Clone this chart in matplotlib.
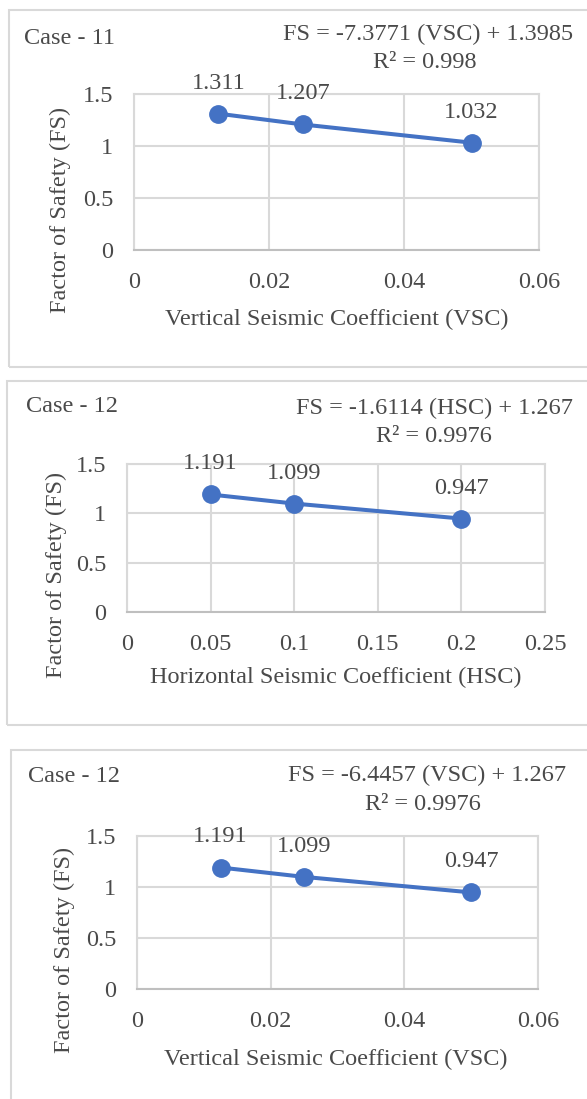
import matplotlib
matplotlib.use('Agg')
import matplotlib.pyplot as plt
from matplotlib.patches import Rectangle

plt.rcParams['font.family'] = ['Liberation Serif', 'DejaVu Serif']

W, H = 587, 1099

# data
vsc_11 = [0.0125, 0.025, 0.05]
fs_11 = [1.311, 1.207, 1.032]
hsc_12 = [0.05, 0.1, 0.2]
fs_12h = [1.191, 1.099, 0.947]
vsc_12 = [0.0125, 0.025, 0.05]
fs_12v = [1.191, 1.099, 0.947]

case_labels = ['Case - 11', 'Case - 12', 'Case - 12']
equations = ['FS = -7.3771 (VSC) + 1.3985',
             'FS = -1.6114 (HSC) + 1.267',
             'FS = -6.4457 (VSC) + 1.267']
r2_labels = ['R\u00b2 = 0.998', 'R\u00b2 = 0.9976', 'R\u00b2 = 0.9976']
x_labels = ['Vertical Seismic Coefficient (VSC)',
            'Horizontal Seismic Coefficient (HSC)',
            'Vertical Seismic Coefficient (VSC)']
x_ticks = [[0, 0.02, 0.04, 0.06],
           [0, 0.05, 0.1, 0.15, 0.2, 0.25],
           [0, 0.02, 0.04, 0.06]]
x_ticklabels = [['0', '0.02', '0.04', '0.06'],
                ['0', '0.05', '0.1', '0.15', '0.2', '0.25'],
                ['0', '0.02', '0.04', '0.06']]
y_ticks = [0, 0.5, 1, 1.5]
y_ticklabels = ['0', '0.5', '1', '1.5']

xs = [vsc_11, hsc_12, vsc_12]
ys = [fs_11, fs_12h, fs_12v]

# layout in pixels (left, right, top, bottom)
axes_px = [(134, 539, 94, 250), (127, 545, 464, 612), (137, 538, 836, 989)]
border_px = [(9, 600, 10, 367), (7, 600, 381, 725), (11, 600, 750, 1110)]
case_px = [(24, 38), (26, 407), (28, 776)]
eq_px = [(573, 34), (573, 408), (566, 775)]
r2_px = [(425, 62), (434, 436), (423, 804)]
xlab_px = [(337, 319), (336, 677), (336, 1059)]
ylab_px = [(60, 210), (56, 575), (64, 950)]

txt = '#4a4a4a'
blue = '#4472C4'
grid = '#d9d9d9'
fs = 17.5

fig = plt.figure(figsize=(W / 100, H / 100), dpi=100)


def fx(px):
    return px / W


def fy(py):
    return 1 - py / H


for i in range(3):
    bl, br, bt, bb = border_px[i]
    fig.patches.append(Rectangle((fx(bl), fy(bb)), fx(br - bl), (bb - bt) / H,
                                 transform=fig.transFigure, fill=False,
                                 edgecolor=grid, linewidth=1.5))

    l, r, t, b = axes_px[i]
    ax = fig.add_axes([fx(l), fy(b), (r - l) / W, (b - t) / H])
    ax.plot(xs[i], ys[i], color=blue, linewidth=2.9, marker='o',
            markersize=12.5, zorder=3, clip_on=False)
    for xv, yv in zip(xs[i], ys[i]):
        ax.annotate(f'{yv:.3f}', (xv, yv), xytext=(0, 22),
                    textcoords='offset points', ha='center', va='center',
                    fontsize=fs, color=txt)

    ax.set_xlim(x_ticks[i][0], x_ticks[i][-1])
    ax.set_ylim(0, 1.5)
    ax.set_xticks(x_ticks[i])
    ax.set_xticklabels(x_ticklabels[i])
    ax.set_yticks(y_ticks)
    ax.set_yticklabels(y_ticklabels)
    ax.tick_params(length=0, labelsize=fs, labelcolor=txt)
    ax.tick_params(axis='x', pad=16)
    ax.tick_params(axis='y', pad=15)
    ax.grid(True, color=grid, linewidth=1.5)
    ax.set_axisbelow(True)
    for s in ax.spines.values():
        s.set_color(grid)
        s.set_linewidth(1.5)
    ax.spines['bottom'].set_color('#bfbfbf')

    fig.text(fx(case_px[i][0]), fy(case_px[i][1]), case_labels[i],
             ha='left', va='center', fontsize=fs, color=txt)
    fig.text(fx(eq_px[i][0]), fy(eq_px[i][1]), equations[i],
             ha='right', va='center', fontsize=fs, color=txt)
    fig.text(fx(r2_px[i][0]), fy(r2_px[i][1]), r2_labels[i],
             ha='center', va='center', fontsize=fs, color=txt)
    fig.text(fx(xlab_px[i][0]), fy(xlab_px[i][1]), x_labels[i],
             ha='center', va='center', fontsize=fs, color=txt)
    fig.text(fx(ylab_px[i][0]), fy(ylab_px[i][1]), 'Factor of Safety (FS)',
             ha='center', va='center', fontsize=fs, color=txt, rotation=90)

fig.savefig('out.png', dpi=100, facecolor='white')
